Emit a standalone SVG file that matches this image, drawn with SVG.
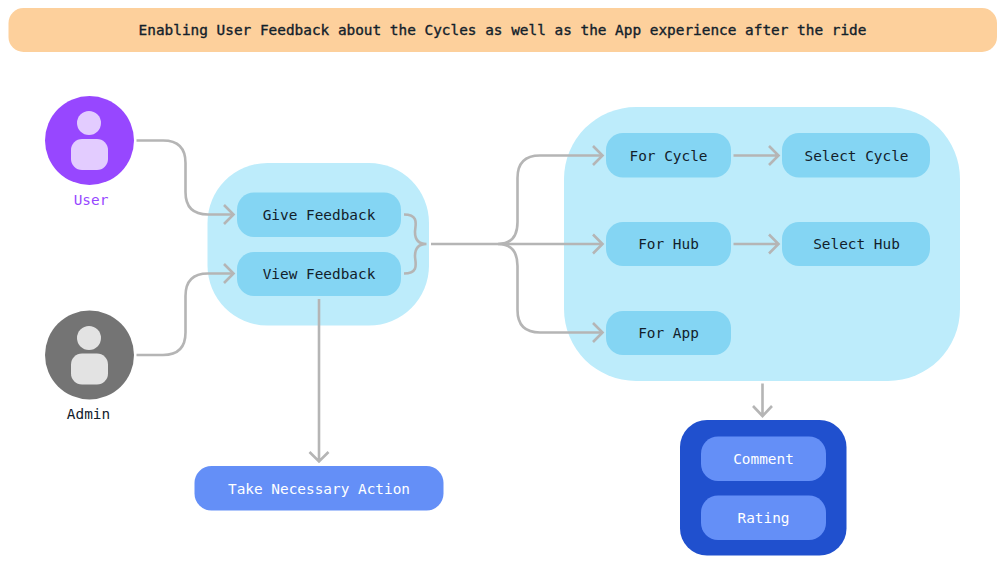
<svg xmlns="http://www.w3.org/2000/svg" width="999" height="564" viewBox="0 0 999 564">
<style>
text{font-family:"DejaVu Sans Mono","Liberation Mono",monospace;font-size:14.4px;text-anchor:middle;fill:#12212b}
.title{stroke:#12212b;stroke-width:.35px}
.big{fill:#bdecfb}
.box{fill:#84d5f3}
.blue{fill:#648ff7}
.c{fill:none;stroke:#b5b5b5;stroke-width:2.6}
</style>
<rect width="999" height="564" fill="#fff"/>
<g id="title"><rect x="8.500" y="8" width="988.500" height="44" rx="15" fill="#fdd09c"/><text class="title" x="502.500" y="35">Enabling User Feedback about the Cycles as well as the App experience after the ride</text></g>
<g id="user"><circle cx="89.500" cy="140.500" r="44.500" fill="#9747ff"/><circle cx="89" cy="123" r="12" fill="#e3ccff"/><rect x="71" y="139" width="37" height="31" rx="11" fill="#e3ccff"/><text x="91" y="205" style="fill:#9747ff">User</text></g>
<g id="admin"><circle cx="89.500" cy="355" r="44.500" fill="#747474"/><circle cx="89" cy="338" r="12" fill="#e3e3e3"/><rect x="71" y="353.500" width="37" height="31" rx="11" fill="#e3e3e3"/><text x="88.500" y="419">Admin</text></g>
<g id="feedback-group"><rect class="big" x="207.500" y="163" width="221.500" height="162.500" rx="60"/></g>
<g id="give-feedback"><rect class="box" x="237" y="192.500" width="164" height="44.500" rx="17"/><text x="319" y="220">Give Feedback</text></g>
<g id="view-feedback"><rect class="box" x="237" y="252" width="164" height="44" rx="17"/><text x="319" y="279">View Feedback</text></g>
<g id="options-group"><rect class="big" x="564" y="107" width="396" height="274" rx="72"/></g>
<g id="for-cycle"><rect class="box" x="606" y="133" width="125" height="44.500" rx="17"/><text x="668.500" y="161">For Cycle</text></g>
<g id="for-hub"><rect class="box" x="606" y="222" width="125" height="44" rx="17"/><text x="668.500" y="249">For Hub</text></g>
<g id="for-app"><rect class="box" x="606" y="311" width="125" height="44" rx="17"/><text x="668.500" y="338">For App</text></g>
<g id="select-cycle"><rect class="box" x="782" y="133" width="148" height="44.500" rx="17"/><text x="856.500" y="161">Select Cycle</text></g>
<g id="select-hub"><rect class="box" x="782" y="222" width="148" height="44" rx="17"/><text x="856.500" y="249">Select Hub</text></g>
<g id="action"><rect class="blue" x="194.500" y="466" width="249" height="44.500" rx="17"/><text x="319" y="494" style="fill:#fff">Take Necessary Action</text></g>
<g id="result-group"><rect x="680" y="420" width="166.500" height="135.500" rx="27" fill="#2050ce"/></g>
<g id="comment"><rect class="blue" x="701" y="436.500" width="125" height="44.500" rx="17"/><text x="763.500" y="464" style="fill:#fff">Comment</text></g>
<g id="rating"><rect class="blue" x="701" y="495.500" width="125" height="44.500" rx="17"/><text x="763.500" y="523" style="fill:#fff">Rating</text></g>
<g id="connectors" class="c">
<path d="M136.500 140.500H163Q185.500 140.500 185.500 163V192Q185.500 214.500 208 214.500H233"/>
<path d="M136.500 355H163Q185.500 355 185.500 332.500V296Q185.500 273.500 208 273.500H233"/>
<path d="M224 205L233.500 214.500L224 224M224 264L233.500 273.500L224 283"/>
<path d="M404 214.500C420 214.500 415 226 415 232Q415 244 426.500 244Q415 244 415 256C415 262 420 273.500 404 273.500"/>
<path d="M431 244H602"/>
<path d="M498 244Q517.500 244 517.500 222V178Q517.500 155.500 540 155.500H602M498 244Q517.500 244 517.500 266V310Q517.500 332.500 540 332.500H602"/>
<path d="M593 146L602.500 155.500L593 165M593 234.500L602.500 244L593 253.500M593 323L602.500 332.500L593 342"/>
<path d="M733.500 155.500H778M769 146L778.500 155.500L769 165M733.500 244H778M769 234.500L778.500 244L769 253.500"/>
<path d="M319 299V461M309.500 452L319 461.500L328.500 452"/>
<path d="M762.500 383.500V415.500M753 406L762.500 416L772 406"/>
</g>
</svg>
